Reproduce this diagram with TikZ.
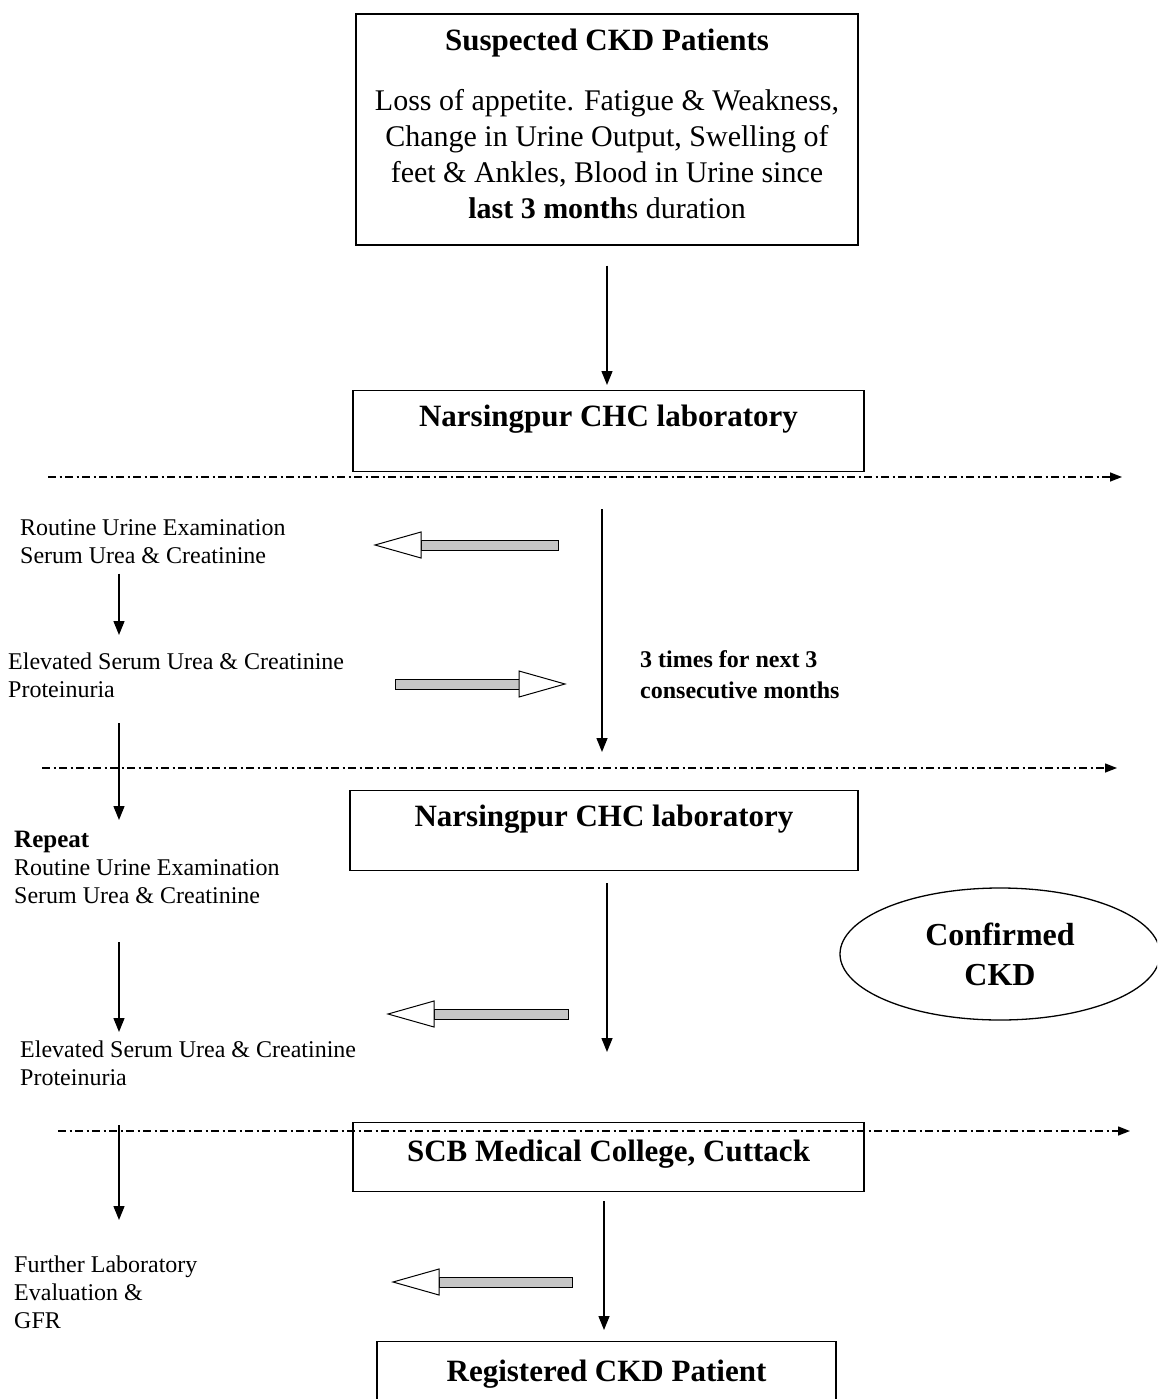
\documentclass[tikz,border=0pt]{standalone}
\usepackage{fontspec}
\setmainfont{Liberation Serif}
\usetikzlibrary{arrows.meta,shapes.geometric}
\tikzset{
	box/.style={draw,line width=1.3pt,anchor=north,inner xsep=0pt,inner ysep=14pt,text height=22pt,font=\bfseries\fontsize{31}{36}\selectfont},
	note/.style={anchor=north west,inner sep=0pt,align=left,font=\fontsize{24}{28}\selectfont},
	flow/.style={line width=1.4pt,-{Triangle[length=14pt,width=11pt]}},
	stage/.style={line width=1.4pt,dash pattern=on 8pt off 3.5pt on 2pt off 3.5pt,-{Triangle[length=12pt,width=9pt]}},
	pics/fat/.style={code={
		\filldraw[fill=gray!45,line width=1pt] (0,-5) rectangle (#1-46,5);
		\filldraw[fill=white,line width=1pt] (#1,0) -- (#1-46,13) -- (#1-46,-13) -- cycle;
	}}
}
\begin{document}
\begin{tikzpicture}[x=1pt,y=-1pt]
	\useasboundingbox (0,0) rectangle (1157,1399);
	\clip (0,0) rectangle (1157,1399);
	\node[draw,line width=1.3pt,minimum width=502pt,minimum height=231pt,align=center,font=\fontsize{30}{36}\selectfont] (b1) at (607,129.5) {{\bfseries\fontsize{31}{36}\selectfont Suspected CKD Patients}\\[24pt]Loss of appetite. Fatigue \& Weakness,\\Change in Urine Output, Swelling of\\feet \& Ankles, Blood in Urine since\\{\bfseries last 3 month}s duration\rule[-11pt]{0pt}{1pt}};
	\node[box,minimum width=511pt,text depth=31pt] (b2) at (608.5,390) {Narsingpur CHC laboratory};
	\node[box,minimum width=508pt,text depth=30pt] (b3) at (604,790) {Narsingpur CHC laboratory};
	\node[box,minimum width=511pt,text height=25pt,text depth=16pt] (b4) at (608.5,1122) {SCB Medical College, Cuttack};
	\node[box,minimum width=459pt,text height=26pt,text depth=30pt] (b5) at (606.5,1341) {Registered CKD Patient};
	\node[draw,ellipse,line width=1.3pt,minimum width=320pt,minimum height=132pt,align=center,font=\bfseries\fontsize{32}{40}\selectfont] (c) at (1000,954) {Confirmed\\CKD};

	\node[note] (t1) at (20,519) {Routine Urine Examination\\Serum Urea \& Creatinine};
	\node[note] (t2) at (8,653) {Elevated Serum Urea \& Creatinine\\Proteinuria};
	\node[note] (t3) at (14,831) {{\bfseries\fontsize{25}{28}\selectfont Repeat}\\Routine Urine Examination\\Serum Urea \& Creatinine};
	\node[note] (t4) at (20,1041) {Elevated Serum Urea \& Creatinine\\Proteinuria};
	\node[note] (t5) at (14,1256) {Further Laboratory\\Evaluation \&\\GFR};
	\node[note,font=\bfseries\fontsize{24}{31}\selectfont] (t6) at (640,650) {3 times for next 3\\consecutive months};

	\coordinate (s1a) at (48,477);
	\coordinate (s1b) at (1122,477);
	\coordinate (s2a) at (42,768);
	\coordinate (s2b) at (1117,768);
	\coordinate (s3a) at (58,1131);
	\coordinate (s3b) at (1130,1131);
	\draw[stage] (s1a) -- (s1b);
	\draw[stage] (s2a) -- (s2b);
	\draw[stage] (s3a) -- (s3b);

	\draw[flow,shorten <=20pt,shorten >=5pt] (b1.south) -- (b1.south |- b2.north);
	\draw[flow,shorten <=37pt,shorten >=38pt] ([xshift=-6.5pt]b2.south) -- ([xshift=-6.5pt]b2.south |- b3.north);
	\draw[flow,shorten <=12pt,shorten >=70pt] ([xshift=3pt]b3.south) -- ([xshift=3pt]b3.south |- b4.north);
	\draw[flow,shorten <=9pt,shorten >=11pt] ([xshift=-4.5pt]b4.south) -- ([xshift=-4.5pt]b4.south |- b5.north);

	\coordinate (lc) at (119,0);
	\draw[flow,shorten <=10pt,shorten >=18pt] (t1.south -| lc) -- (t2.north -| lc);
	\draw[flow,shorten <=25pt,shorten >=11pt] (t2.south -| lc) -- (t3.north -| lc);
	\draw[flow,shorten <=38pt,shorten >=9pt] (t3.south -| lc) -- (t4.north -| lc);
	\draw[flow,shorten <=39pt,shorten >=36pt] (t4.south -| lc) -- (t5.north -| lc);

	\pic[rotate=180] at (558,545) {fat=183};
	\pic at (395,684) {fat=170};
	\pic[rotate=180] at (568,1014) {fat=180};
	\pic[rotate=180] at (572,1282) {fat=179};
\end{tikzpicture}
\end{document}
